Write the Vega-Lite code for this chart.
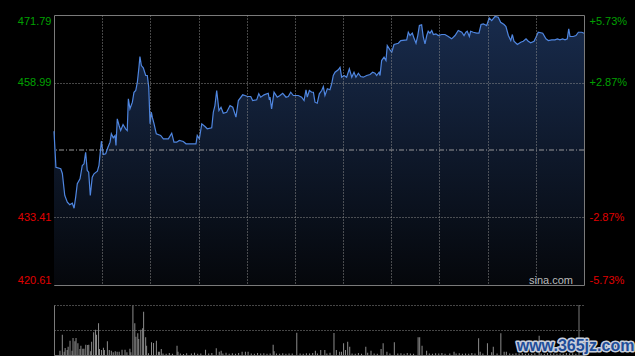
{
  "$schema": "https://vega.github.io/schema/vega-lite/v6.json",
  "background": "#000000",
  "padding": {"left": 16, "top": 13, "right": 0, "bottom": 0},
  "spacing": 20,
  "bounds": "flush",
  "config": {"view": {"stroke": null}, "font": "Liberation Sans"},
  "datasets": {
    "price": [
      {"t":0,"p":449.76},{"t":1.2,"p":442.94},{"t":4.2,"p":442.64},{"t":5.2,"p":441.75},{"t":6.7,"p":437.58},{"t":8.3,"p":436.31},{"t":9.8,"p":435.82},{"t":11.4,"p":436.12},{"t":12.5,"p":435.17},{"t":13.5,"p":437.26},{"t":14.5,"p":439.8},{"t":16.2,"p":440.74},{"t":17.6,"p":443.26},{"t":18.7,"p":443.58},{"t":19.7,"p":445.78},{"t":20.7,"p":442.32},{"t":21.6,"p":441.99},{"t":22.6,"p":437.58},{"t":23.8,"p":441.05},{"t":24.9,"p":441.69},{"t":27,"p":442.18},{"t":28,"p":443.26},{"t":29.5,"p":447.87},{"t":30.7,"p":445.35},{"t":32.2,"p":445.48},{"t":33.6,"p":446.73},{"t":34.9,"p":447.68},{"t":35.7,"p":449.27},{"t":36.9,"p":448.51},{"t":38,"p":448.95},{"t":38.6,"p":447.05},{"t":39.4,"p":452.11},{"t":40.5,"p":450.84},{"t":41.5,"p":449.9},{"t":43,"p":451.03},{"t":44.6,"p":450.22},{"t":45.6,"p":449.9},{"t":46.3,"p":455.9},{"t":47.3,"p":454.01},{"t":48.8,"p":455.26},{"t":49.8,"p":457.15},{"t":50.9,"p":457.48},{"t":51.9,"p":459.05},{"t":52.9,"p":461.89},{"t":53.5,"p":463.92},{"t":54.4,"p":462.21},{"t":55.6,"p":461.78},{"t":57.1,"p":460.32},{"t":58.1,"p":460.32},{"t":59,"p":458.1},{"t":59.8,"p":451.17},{"t":60.6,"p":453.36},{"t":61.2,"p":452.42},{"t":62.3,"p":451.17},{"t":63.7,"p":449.27},{"t":66.4,"p":448.95},{"t":68.1,"p":448.32},{"t":71.2,"p":448.32},{"t":73.3,"p":449.38},{"t":74.7,"p":447.68},{"t":76.4,"p":447.68},{"t":78,"p":448.0},{"t":80.5,"p":447.81},{"t":82.2,"p":447.37},{"t":88.4,"p":447.37},{"t":89.2,"p":448.95},{"t":90.5,"p":448.32},{"t":92,"p":451.17},{"t":94,"p":450.65},{"t":95.4,"p":450.22},{"t":98.2,"p":450.41},{"t":99.2,"p":453.36},{"t":100.2,"p":454.63},{"t":101.3,"p":457.48},{"t":102.7,"p":453.69},{"t":104,"p":454.31},{"t":105.4,"p":453.17},{"t":107.5,"p":453.36},{"t":109.6,"p":454.63},{"t":111.3,"p":454.31},{"t":113.3,"p":452.42},{"t":114.8,"p":455.58},{"t":117.5,"p":456.66},{"t":118.9,"p":456.53},{"t":120.4,"p":456.34},{"t":122.5,"p":456.34},{"t":123.7,"p":455.58},{"t":126.2,"p":455.71},{"t":127.5,"p":456.85},{"t":128.7,"p":456.21},{"t":130.8,"p":456.66},{"t":133.4,"p":456.96},{"t":134.1,"p":455.71},{"t":134.5,"p":456.21},{"t":135.5,"p":454.01},{"t":137,"p":457.15},{"t":139,"p":456.21},{"t":140.7,"p":456.53},{"t":142.4,"p":456.96},{"t":144.5,"p":456.21},{"t":145.9,"p":456.34},{"t":147.4,"p":457.15},{"t":149,"p":456.53},{"t":152.1,"p":456.53},{"t":154.2,"p":456.21},{"t":155.7,"p":455.58},{"t":156.9,"p":457.61},{"t":157.7,"p":456.21},{"t":159,"p":457.48},{"t":160.5,"p":457.15},{"t":161.5,"p":457.15},{"t":162.5,"p":455.26},{"t":163.9,"p":455.07},{"t":165.2,"p":456.85},{"t":166.7,"p":457.48},{"t":167.7,"p":458.23},{"t":168.7,"p":456.53},{"t":170.2,"p":457.8},{"t":171.8,"p":457.61},{"t":172.9,"p":458.75},{"t":173.9,"p":460.32},{"t":175,"p":460.94},{"t":177,"p":461.4},{"t":178.1,"p":461.89},{"t":179.1,"p":460.0},{"t":180.6,"p":460.32},{"t":182.2,"p":460.0},{"t":183.9,"p":461.59},{"t":185.4,"p":460.0},{"t":186.8,"p":460.94},{"t":188,"p":460.0},{"t":189.5,"p":460.75},{"t":191,"p":460.13},{"t":192.6,"p":460.0},{"t":194.7,"p":460.32},{"t":196.8,"p":460.51},{"t":198.4,"p":460.94},{"t":199.9,"p":460.75},{"t":200.9,"p":460.32},{"t":202.4,"p":460.94},{"t":203,"p":460.32},{"t":204,"p":463.16},{"t":205.5,"p":463.79},{"t":206.7,"p":463.16},{"t":207.5,"p":466.0},{"t":209.2,"p":465.19},{"t":210.3,"p":464.73},{"t":211.7,"p":466.19},{"t":214.4,"p":466.44},{"t":215.9,"p":466.95},{"t":219.6,"p":467.08},{"t":220.6,"p":468.52},{"t":221.7,"p":467.9},{"t":223.1,"p":468.34},{"t":224.3,"p":467.27},{"t":225.4,"p":466.44},{"t":226.5,"p":467.9},{"t":227.5,"p":469.79},{"t":228.9,"p":469.93},{"t":229.9,"p":467.71},{"t":231,"p":466.33},{"t":232.1,"p":467.9},{"t":233,"p":468.71},{"t":234.1,"p":468.34},{"t":235.2,"p":468.85},{"t":236.2,"p":468.09},{"t":237.8,"p":468.22},{"t":239.3,"p":467.9},{"t":241.4,"p":468.09},{"t":243.4,"p":468.09},{"t":245.5,"p":467.71},{"t":247.6,"p":467.27},{"t":249.7,"p":467.9},{"t":251.7,"p":468.85},{"t":253.9,"p":468.52},{"t":255.3,"p":467.9},{"t":256.5,"p":468.52},{"t":257.3,"p":468.71},{"t":258.6,"p":467.71},{"t":259.4,"p":468.71},{"t":261.1,"p":468.52},{"t":263.2,"p":468.34},{"t":264.6,"p":468.34},{"t":265.9,"p":469.98},{"t":267.3,"p":470.12},{"t":269.4,"p":469.79},{"t":271,"p":471.25},{"t":272.5,"p":470.74},{"t":274.6,"p":471.5},{"t":276.6,"p":471.37},{"t":278.1,"p":470.42},{"t":280.2,"p":469.98},{"t":281.4,"p":469.6},{"t":282.9,"p":467.9},{"t":284.4,"p":466.95},{"t":285.4,"p":468.09},{"t":286.4,"p":466.82},{"t":288.5,"p":466.19},{"t":290.6,"p":466.63},{"t":292.2,"p":466.82},{"t":293.9,"p":467.27},{"t":295.3,"p":466.82},{"t":296.8,"p":466.52},{"t":298.9,"p":466.82},{"t":300.1,"p":467.58},{"t":301.5,"p":468.52},{"t":304.3,"p":468.34},{"t":306.3,"p":467.27},{"t":307.8,"p":466.95},{"t":309.9,"p":467.08},{"t":311.9,"p":467.08},{"t":313.4,"p":467.27},{"t":315,"p":467.08},{"t":316.7,"p":467.27},{"t":318.2,"p":467.08},{"t":319.6,"p":467.27},{"t":320.5,"p":469.17},{"t":321.3,"p":467.71},{"t":323.3,"p":467.71},{"t":325,"p":467.9},{"t":326.5,"p":468.52},{"t":328.6,"p":468.52},{"t":330,"p":468.34}
    ],
    "vol": [
      {"t":0.6,"v":86000},{"t":2.1,"v":406000},{"t":3.3,"v":66000},{"t":3.9,"v":140000},{"t":5.2,"v":100000},{"t":5.8,"v":166000},{"t":7.0,"v":286000},{"t":8.3,"v":86000},{"t":8.9,"v":340000},{"t":10.1,"v":274000},{"t":10.8,"v":340000},{"t":12.0,"v":234000},{"t":13.3,"v":120000},{"t":13.9,"v":186000},{"t":15.1,"v":126000},{"t":15.8,"v":126000},{"t":17.0,"v":206000},{"t":18.2,"v":200000},{"t":18.9,"v":206000},{"t":20.1,"v":74000},{"t":20.7,"v":266000},{"t":22.0,"v":454000},{"t":23.2,"v":506000},{"t":23.8,"v":406000},{"t":25.1,"v":634000},{"t":25.7,"v":120000},{"t":27.0,"v":100000},{"t":28.2,"v":146000},{"t":28.8,"v":100000},{"t":30.7,"v":274000},{"t":31.9,"v":100000},{"t":33.2,"v":86000},{"t":34.4,"v":54000},{"t":35.7,"v":74000},{"t":36.9,"v":66000},{"t":38.2,"v":66000},{"t":40.0,"v":106000},{"t":41.9,"v":106000},{"t":43.1,"v":54000},{"t":45.0,"v":126000},{"t":45.6,"v":54000},{"t":46.9,"v":986000},{"t":48.1,"v":634000},{"t":48.8,"v":366000},{"t":50.0,"v":434000},{"t":50.6,"v":320000},{"t":51.9,"v":506000},{"t":53.1,"v":534000},{"t":53.7,"v":866000},{"t":55.0,"v":354000},{"t":55.6,"v":186000},{"t":56.8,"v":34000},{"t":58.7,"v":254000},{"t":60.0,"v":240000},{"t":61.8,"v":286000},{"t":63.1,"v":66000},{"t":63.7,"v":66000},{"t":64.9,"v":120000},
      {"t":66,"v":30000},{"t":68,"v":24000},{"t":70,"v":40000},{"t":72,"v":26000},{"t":74.9,"v":186000},{"t":75.5,"v":66000},{"t":77,"v":30000},{"t":79,"v":22000},{"t":81,"v":36000},{"t":84,"v":28000},{"t":86,"v":44000},{"t":88,"v":24000},{"t":90,"v":32000},{"t":93.0,"v":106000},{"t":95,"v":30000},{"t":97,"v":40000},{"t":99.8,"v":134000},{"t":101.7,"v":66000},{"t":102.9,"v":86000},{"t":104,"v":30000},{"t":106,"v":44000},{"t":108,"v":26000},{"t":110,"v":36000},{"t":112,"v":24000},{"t":114,"v":40000},{"t":116.2,"v":66000},{"t":118.3,"v":66000},{"t":120.0,"v":66000},{"t":122,"v":30000},{"t":124,"v":24000},{"t":126,"v":42000},{"t":128,"v":28000},{"t":130,"v":34000},{"t":132,"v":24000},{"t":134,"v":30000},{"t":135.9,"v":206000},{"t":136.5,"v":74000},{"t":138,"v":30000},{"t":140,"v":26000},{"t":142,"v":36000},{"t":144,"v":24000},{"t":146,"v":32000},{"t":148,"v":28000},{"t":150.9,"v":446000},{"t":153,"v":30000},{"t":155,"v":24000},{"t":157,"v":36000},{"t":159,"v":28000},{"t":161,"v":40000},{"t":162.7,"v":86000},{"t":164,"v":30000},{"t":166.1,"v":100000},{"t":168.7,"v":100000},{"t":170,"v":30000},{"t":172,"v":44000},{"t":174.5,"v":440000},{"t":176.0,"v":100000},{"t":178.1,"v":66000},{"t":179.3,"v":66000},{"t":180.6,"v":234000},{"t":181.8,"v":100000},{"t":183.2,"v":266000},{"t":184.5,"v":166000},{"t":186,"v":30000},{"t":188,"v":24000},{"t":190,"v":40000},{"t":192,"v":26000},{"t":194.7,"v":166000},{"t":195.9,"v":46000},{"t":198.0,"v":86000},{"t":200,"v":30000},{"t":202,"v":24000},{"t":204.4,"v":120000},{"t":205.7,"v":234000},{"t":208.1,"v":66000},{"t":210,"v":30000},{"t":212.8,"v":254000},{"t":215,"v":28000},{"t":217,"v":36000},{"t":219,"v":24000},{"t":221,"v":40000},{"t":223,"v":30000},{"t":225,"v":26000},{"t":227.9,"v":354000},{"t":228.9,"v":354000},{"t":230.4,"v":186000},{"t":233.3,"v":86000},{"t":235,"v":30000},{"t":237,"v":24000},{"t":239,"v":36000},{"t":241,"v":28000},{"t":243,"v":40000},{"t":245,"v":24000},{"t":248,"v":30000},{"t":250.7,"v":66000},{"t":252,"v":28000},{"t":254,"v":36000},{"t":256,"v":24000},{"t":258,"v":30000},{"t":260,"v":26000},{"t":262,"v":40000},{"t":264,"v":28000},{"t":266.3,"v":334000},{"t":267.3,"v":66000},{"t":269,"v":30000},{"t":271.9,"v":234000},{"t":274.6,"v":54000},{"t":275.6,"v":166000},{"t":278,"v":30000},{"t":280.4,"v":434000},{"t":282.5,"v":66000},{"t":283.9,"v":66000},{"t":286,"v":30000},{"t":288,"v":24000},{"t":290,"v":36000},{"t":292,"v":28000},{"t":294,"v":40000},{"t":296,"v":24000},{"t":298,"v":30000},{"t":300,"v":26000},{"t":302,"v":36000},{"t":304.7,"v":386000},{"t":306,"v":30000},{"t":308,"v":24000},{"t":310,"v":40000},{"t":312,"v":28000},{"t":314,"v":36000},{"t":316,"v":24000},{"t":318,"v":30000},{"t":320,"v":26000},{"t":322,"v":40000},{"t":324,"v":28000},{"t":326,"v":36000},{"t":328,"v":24000}
    ]
  },
  "vconcat": [
    {
      "width": 530,
      "height": 270,
      "view": {"stroke": "#7a7a7a", "strokeWidth": 1},
      "resolve": {"axis": {"y": "independent"}},
      "layer": [
        {
          "data": {"name": "price"},
          "mark": {
            "type": "area",
            "color": {
              "gradient": "linear",
              "x1": 0, "y1": 0, "x2": 0, "y2": 1,
              "stops": [
                {"offset": 0, "color": "#182b4c"},
                {"offset": 1, "color": "#05070b"}
              ]
            }
          },
          "encoding": {
            "x": {
              "field": "t", "type": "quantitative",
              "scale": {"domain": [0, 330], "nice": false, "zero": false},
              "axis": {
                "values": [30, 60, 90, 120, 150, 180, 210, 240, 270, 300],
                "grid": true, "gridColor": "#8c8c8c", "gridDash": [1, 2], "gridWidth": 1, "zindex": 1,
                "labels": false, "ticks": false, "domain": false, "title": null
              }
            },
            "y": {
              "field": "p", "type": "quantitative",
              "scale": {"domain": [420.61, 471.79], "nice": false, "zero": false},
              "axis": {
                "orient": "left",
                "values": [420.61, 433.41, 458.99, 471.79],
                "format": ".2f",
                "labelFlush": true,
                "labelFont": "Liberation Sans",
                "labelFontSize": 11,
                "labelPadding": 3,
                "labelColor": {"condition": {"test": "datum.value > 446.2", "value": "#00a000"}, "value": "#e00000"},
                "ticks": false, "domain": false, "title": null, "zindex": 1,
                "grid": true, "gridColor": "#8c8c8c", "gridDash": [1, 2],
                "gridOpacity": {"condition": {"test": "datum.value < 421 || datum.value > 471", "value": 0}, "value": 1}
              }
            },
            "y2": {"datum": 420.61}
          }
        },
        {
          "data": {"values": [{"prev": 446.2}]},
          "mark": {"type": "rule", "color": "#9a9a9a", "strokeDash": [5, 2, 1, 2], "strokeWidth": 1},
          "encoding": {
            "y": {"field": "prev", "type": "quantitative", "axis": null}
          }
        },
        {
          "data": {"name": "price"},
          "mark": {"type": "line", "color": "#4f86e0", "strokeWidth": 1.2},
          "encoding": {
            "x": {
              "field": "t", "type": "quantitative",
              "axis": {
                "values": [30, 60, 90, 120, 150, 180, 210, 240, 270, 300],
                "grid": true, "gridColor": "#8c8c8c", "gridDash": [1, 2], "gridWidth": 1, "zindex": 1,
                "labels": false, "ticks": false, "domain": false, "title": null
              }
            },
            "y": {
              "field": "p", "type": "quantitative",
              "axis": {
                "orient": "right",
                "values": [420.61, 433.41, 458.99, 471.79],
                "labelExpr": "datum.value > 465 ? '+5.73%' : datum.value > 446.2 ? '+2.87%' : datum.value > 430 ? '-2.87%' : '-5.73%'",
                "labelFlush": true,
                "labelFont": "Liberation Sans",
                "labelFontSize": 11,
                "labelPadding": 5,
                "labelColor": {"condition": {"test": "datum.value > 446.2", "value": "#00a000"}, "value": "#e00000"},
                "ticks": false, "domain": false, "title": null, "grid": false
              }
            }
          }
        },
        {
          "data": {"values": [{"t": 330, "p": 420.61, "label": "sina.com"}]},
          "mark": {"type": "text", "align": "right", "baseline": "alphabetic", "dx": -11, "dy": -1.5, "fontSize": 11, "font": "Liberation Sans", "color": "#bbbbbb"},
          "encoding": {
            "x": {
              "field": "t", "type": "quantitative",
              "axis": {
                "values": [30, 60, 90, 120, 150, 180, 210, 240, 270, 300],
                "grid": true, "gridColor": "#8c8c8c", "gridDash": [1, 2], "gridWidth": 1, "zindex": 1,
                "labels": false, "ticks": false, "domain": false, "title": null
              }
            },
            "y": {"field": "p", "type": "quantitative", "axis": null},
            "text": {"field": "label"}
          }
        }
      ]
    },
    {
      "width": 530,
      "height": 50,
      "encoding": {
        "x": {
          "field": "t", "type": "quantitative",
          "scale": {"domain": [0, 330], "nice": false, "zero": false},
          "axis": {"labels": false, "ticks": false, "grid": false, "domain": true, "domainColor": "#7a7a7a", "title": null}
        }
      },
      "layer": [
        {
          "data": {"name": "vol"},
          "mark": {"type": "bar", "size": 1, "color": "#8c8c8c"},
          "encoding": {
            "y": {
              "field": "v", "type": "quantitative",
              "scale": {"domain": [0, 1000000], "nice": false},
              "axis": {
                "values": [500000, 1000000],
                "labels": false, "ticks": false, "title": null,
                "domain": true, "domainColor": "#7a7a7a",
                "grid": true, "gridColor": "#8c8c8c", "gridDash": [1, 2]
              }
            }
          }
        },
        {
          "data": {"values": [{"t": 330}]},
          "mark": {"type": "rule", "color": "#7a7a7a", "strokeWidth": 1}
        },
        {
          "data": {"values": [{"t": 327.8, "v": 176000, "label": "www.365jz.com"}]},
          "mark": {"type": "text", "align": "center", "baseline": "middle", "fontSize": 16, "fontWeight": "bold", "font": "Liberation Sans", "fill": "#c8cfdc", "stroke": "#c8cfdc", "strokeWidth": 3, "strokeJoin": "round"},
          "encoding": {
            "y": {
              "field": "v", "type": "quantitative",
              "axis": {
                "values": [500000, 1000000],
                "labels": false, "ticks": false, "title": null,
                "domain": true, "domainColor": "#7a7a7a",
                "grid": true, "gridColor": "#8c8c8c", "gridDash": [1, 2]
              }
            },
            "text": {"field": "label"}
          }
        },
        {
          "data": {"values": [{"t": 327.8, "v": 176000, "label": "www.365jz.com"}]},
          "mark": {"type": "text", "align": "center", "baseline": "middle", "fontSize": 16, "fontWeight": "bold", "font": "Liberation Sans", "fill": "#1e4d99"},
          "encoding": {
            "y": {
              "field": "v", "type": "quantitative",
              "axis": {
                "values": [500000, 1000000],
                "labels": false, "ticks": false, "title": null,
                "domain": true, "domainColor": "#7a7a7a",
                "grid": true, "gridColor": "#8c8c8c", "gridDash": [1, 2]
              }
            },
            "text": {"field": "label"}
          }
        }
      ]
    }
  ]
}
